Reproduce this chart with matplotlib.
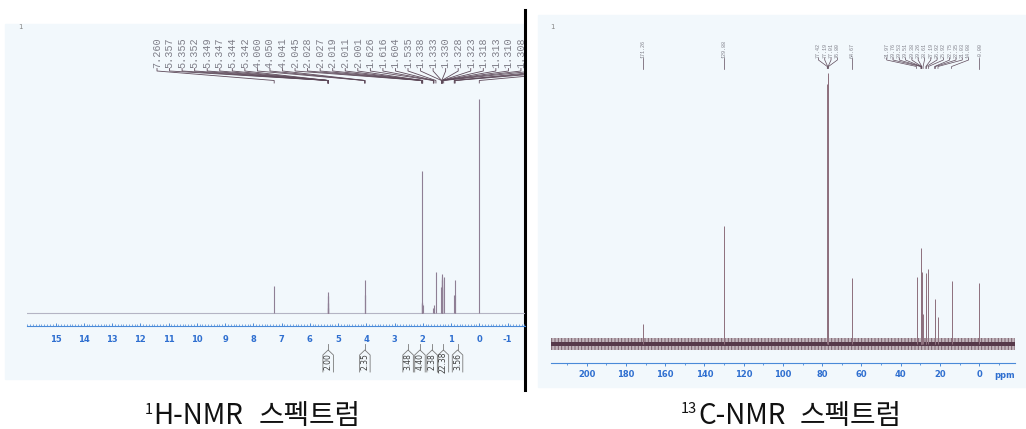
import matplotlib
matplotlib.use("Agg")
import matplotlib.pyplot as plt
from matplotlib.patches import Rectangle
from matplotlib.ticker import FixedLocator, MultipleLocator
from matplotlib.transforms import Bbox

plt.rcParams['axes.unicode_minus'] = False
plt.rcParams['hatch.linewidth'] = 0.7

# ---------------- 1H NMR (CDCl3) ----------------
# picked peaks, ppm, and relative intensities (TMS = 100)
h_shifts = [7.260, 5.357, 5.355, 5.352, 5.349, 5.347, 5.344, 5.342,
            4.060, 4.050, 4.041, 2.045, 2.028, 2.027, 2.019, 2.011, 2.001,
            1.626, 1.616, 1.604, 1.535, 1.338, 1.333, 1.330, 1.328, 1.323,
            1.318, 1.313, 1.310, 1.308, 1.260, 0.888, 0.871, 0.854, 0.000]
h_intens = [12.5, 2.0, 4.5, 7.5, 9.4, 7.5, 4.5, 2.0,
            8.0, 15.3, 8.0, 66.3, 4.0, 4.5, 5.0, 4.5, 3.5,
            2.0, 3.3, 2.0, 19.2, 12.0, 15.0, 18.2, 17.0, 16.0,
            15.0, 13.0, 12.0, 11.0, 16.8, 8.0, 15.3, 8.0, 100.0]
h_ruler_ticks = list(range(15, -2, -1))

# integrals: centre (ppm) and integrated value
int_centres = [5.35, 4.05, 2.52, 2.10, 1.67, 1.27, 0.77]
int_values = [2.00, 2.35, 3.48, 4.40, 2.38, 22.38, 3.56]

# ---------------- 13C NMR (CDCl3) ----------------
c_shifts = [171.26, 129.88, 77.42, 77.19, 77.01, 76.80, 64.67,
            31.97, 29.76, 29.53, 29.51, 29.38, 29.26, 28.61, 27.19,
            26.92, 25.92, 22.75, 22.35, 21.03, 14.08, -0.00]
c_intens = [7.4, 43.5, 96.0, 100.0, 99.0, 95.0, 24.4,
            24.7, 35.4, 28.0, 27.3, 26.6, 25.8, 11.0, 26.2,
            18.0, 27.7, 13.0, 16.6, 10.0, 23.2, 22.5]
# label groups (indices into c_shifts) printed above the spectrum
c_groups = [[0], [1], [2, 3, 4, 5], [6],
            list(range(7, 21)), [21]]
c_ruler_ticks = list(range(0, 201, 20))

W, H = 1026, 429
PANEL = '#f2f8fc'
BLUE = '#4a8ad8'
LBLUE = '#2f6fd0'
PEAK = '#8f7f95'
LEAD = '#5e4a5a'
LABEL = '#7e7e88'

fig = plt.figure(figsize=(W / 100, H / 100), dpi=100)
canvas = fig.add_axes([0, 0, 1, 1])
canvas.set_xlim(0, W)
canvas.set_ylim(H, 0)
canvas.axis('off')


def box(x0, y0, x1, y1):
    return [x0 / W, 1 - y1 / H, (x1 - x0) / W, (y1 - y0) / H]


def xpix(ax, v):
    return ax.transData.transform((v, 0))[0]


canvas.add_patch(Rectangle((5, 23.5), 520, 355, color=PANEL, zorder=0))
canvas.add_patch(Rectangle((538, 15), 488, 372, color=PANEL, zorder=0))
canvas.plot([525, 525], [10, 390], color='black', lw=2.2, zorder=5)
canvas.text(20, 27, '1', fontsize=5, color='#888888', ha='center', va='center')
canvas.text(552, 27, '1', fontsize=5, color='#888888', ha='center', va='center')

# ---- 1H spectrum ----
ax_h = fig.add_axes(box(27, 90, 525, 320))
ax_h.set_xlim(16.01, -1.618)
ax_h.set_ylim(-3.51, 104.2)
ax_h.axis('off')
ax_h.axhline(0, color='#b4b4c4', lw=0.8)
ax_h.vlines(h_shifts, 0, h_intens, color=PEAK, lw=0.8)

ax_hr = fig.add_axes(box(27, 316.4, 525, 326.4))
ax_hr.set_xlim(16.01, -1.618)
ax_hr.patch.set_visible(False)
for s in ['top', 'left', 'right']:
    ax_hr.spines[s].set_visible(False)
ax_hr.spines['bottom'].set_color(BLUE)
ax_hr.spines['bottom'].set_linewidth(0.8)
ax_hr.set_yticks([])
ax_hr.xaxis.set_major_locator(FixedLocator(h_ruler_ticks))
ax_hr.xaxis.set_minor_locator(MultipleLocator(0.1))
ax_hr.tick_params(axis='x', which='major', direction='in', length=2.4, width=0.7,
                  color=BLUE, labelsize=6, labelcolor=LBLUE, pad=6)
ax_hr.tick_params(axis='x', which='minor', direction='in', length=1.2, width=0.5, color=BLUE)
for lab in ax_hr.get_xticklabels():
    lab.set_fontweight('bold')

# peak list above the 1H spectrum (runs off the right edge of the panel)
left_clip = Bbox([[5, 0], [524, H]])
for i, v in enumerate(h_shifts):
    lx = 157 + 12.55 * i
    px = xpix(ax_h, v)
    t = canvas.text(lx, 67.5, f'{v:.3f}', rotation=90, ha='center', va='bottom',
                    fontsize=7.3, family='Liberation Mono', color=LABEL)
    t.set_clip_on(True)
    t.set_clip_box(left_clip)
    ln, = canvas.plot([lx, lx, px, px], [68.5, 71, 80.5, 83], color=LEAD, lw=0.6)
    ln.set_clip_box(left_clip)

# integrals below the ruler
for c, val in zip(int_centres, int_values):
    cx = xpix(ax_h, c)
    w = 10.5
    canvas.plot([cx - w / 2, cx - w / 2, cx, cx + w / 2, cx + w / 2],
                [372, 355, 350, 355, 372], color='#7a7a7a', lw=0.6)
    canvas.plot([cx, cx], [344, 350], color='#7a7a7a', lw=0.6)
    canvas.text(cx, 362, f'{val:.2f}', rotation=90, ha='center', va='center',
                fontsize=5.5, color='#3d3d3d')

# ---- 13C spectrum ----
ax_c = fig.add_axes(box(550.7, 60, 1015, 360))
ax_c.set_xlim(218.3, -18.2)
ax_c.set_ylim(-5.9, 104.8)
ax_c.axis('off')
ax_c.axhspan(-2.1, 2.1, facecolor='#b7a6ae', edgecolor='#6a4c5a', hatch='|||||',
             alpha=0.8, lw=0)
ax_c.axhspan(-0.9, 0.9, color='#56394a', lw=0)
ax_c.vlines(c_shifts, 0, c_intens, color='#8d6f7d', lw=0.7)

ax_cr = fig.add_axes(box(550.7, 353.3, 1015, 363.3))
ax_cr.set_xlim(218.3, -18.2)
ax_cr.patch.set_visible(False)
for s in ['top', 'left', 'right']:
    ax_cr.spines[s].set_visible(False)
ax_cr.spines['bottom'].set_color(BLUE)
ax_cr.spines['bottom'].set_linewidth(0.8)
ax_cr.set_yticks([])
ax_cr.xaxis.set_major_locator(FixedLocator(c_ruler_ticks))
ax_cr.xaxis.set_minor_locator(MultipleLocator(10))
ax_cr.tick_params(axis='x', which='major', direction='out', length=2.5, width=0.7,
                  color=BLUE, labelsize=6, labelcolor=LBLUE, pad=2.5)
ax_cr.tick_params(axis='x', which='minor', direction='out', length=1.6, width=0.6, color=BLUE)
for lab in ax_cr.get_xticklabels():
    lab.set_fontweight('bold')
canvas.text(1005, 371, 'ppm', fontsize=6, fontweight='bold', color=LBLUE,
            ha='center', va='top')

# peak list above the 13C spectrum
for grp in c_groups:
    pxs = [xpix(ax_c, c_shifts[k]) for k in grp]
    centre = sum(pxs) / len(pxs)
    n = len(grp)
    for j, k in enumerate(grp):
        lx = centre + (j - (n - 1) / 2) * 6.3
        px = pxs[j]
        canvas.text(lx, 57.5, f'{c_shifts[k]:.2f}', rotation=90, ha='center',
                    va='bottom', fontsize=3.6, family='Liberation Mono', color=LABEL)
        canvas.plot([lx, lx, px, px], [58, 60, 66.5, 68.5], color=LEAD, lw=0.5)

# ---- captions ----
KR = ['Noto Sans CJK KR', 'DejaVu Sans']
CAP = dict(fontsize=20, family=KR, ha='left', va='baseline', color='#111111')
SUP = dict(fontsize=10.5, family=KR, ha='right', va='baseline', color='#111111')
canvas.text(153.5, 423.5, 'H-NMR', **CAP)
canvas.text(259, 423.5, '스펙트럼', **CAP)
canvas.text(152.5, 414.5, '1', **SUP)
canvas.text(698, 423.5, 'C-NMR', **CAP)
canvas.text(800, 423.5, '스펙트럼', **CAP)
canvas.text(697, 413, '13', **SUP)

fig.savefig('out.png', dpi=100)
